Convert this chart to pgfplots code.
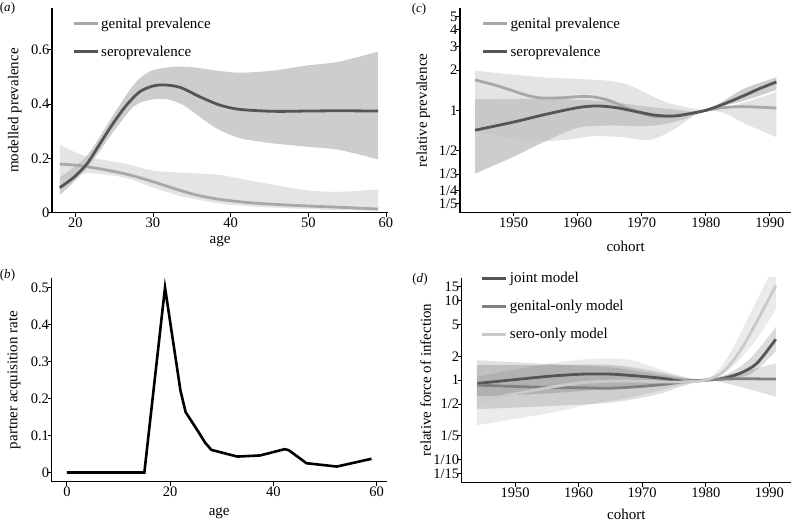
\documentclass[border=0pt]{standalone}
\usepackage{fontspec}
\setmainfont{Liberation Serif}
\usepackage{pgfplots}
\pgfplotsset{compat=1.18}
\usepgfplotslibrary{fillbetween}
\definecolor{rlight}{HTML}{E4E4E4}
\definecolor{rdark}{HTML}{C4C4C4}
\definecolor{lgen}{HTML}{A8A8A8}
\definecolor{lsero}{HTML}{555555}
\definecolor{lmid}{HTML}{808080}
\definecolor{lpale}{HTML}{CACACA}
\newcommand{\lblfont}{\rmfamily\fontsize{15}{17}\selectfont}
\newcommand{\tckfont}{\rmfamily\fontsize{14.5}{16}\selectfont}
\newcommand{\legtxt}[1]{\rmfamily\fontsize{15}{17}\selectfont #1}
\pgfplotsset{
  panel/.style={
    scale only axis, axis lines=left,
    axis line style={-, line width=1.1pt, black},
    tick align=outside, major tick length=4pt,
    tick style={line width=0.9pt, black},
    /pgf/number format/assume math mode=true,
    /pgf/number format/1000 sep={},
    tick label style={font=\tckfont, inner sep=1pt},
    yticklabel style={xshift=2.5pt},
    every axis x label/.style={at={(axis description cs:0.5,0)}, anchor=center, font=\lblfont},
    every axis y label/.style={anchor=center, rotate=90, font=\lblfont},
    legend style={draw=none, fill=none, anchor=north west,
      font=\lblfont, row sep=14pt, inner sep=0pt,
      nodes={inner sep=0pt, text height=11pt, text depth=3pt, font=\lblfont},
      /tikz/every odd column/.append style={column sep=2pt}},
    legend cell align=left,
    legend image code/.code={\draw[##1, line width=3pt] (0pt,0.4pt) -- (24pt,0.4pt);},
  },
}
\begin{document}
\begin{tikzpicture}

% ---------------- (a)
\begin{axis}[panel, at={(52pt,-212.7pt)}, anchor=south west,
  width=336.3pt, height=204.4pt,
  xmin=17, xmax=60.3, ymin=0, ymax=0.752,
  xtick={20,30,40,50,60}, ytick={0,0.2,0.4,0.6},
  xlabel={age}, ylabel={modelled prevalence},
  xlabel style={yshift=-29pt},
  ylabel style={at={(axis description cs:-0.111,0.5)}},
  legend style={at={(0.0595,0.957)}}]
\addplot[name path=gu, draw=none, forget plot, smooth] coordinates {
(18,0.249) (21.5,0.206) (26.2,0.182) (30,0.155) (33.9,0.147) (38.6,0.139) (43.3,0.114) (49.7,0.083) (54,0.077) (59,0.086)};
\addplot[name path=gl, draw=none, forget plot, smooth] coordinates {
(18,0.12) (21.5,0.145) (26.2,0.13) (30,0.093) (33.9,0.059) (38.6,0.034) (43.3,0.022) (49.7,0.0135) (54,0.01) (59,0.007)};
\addplot[fill=rlight, draw=none, forget plot] fill between[of=gu and gl];
\addplot[name path=su, draw=none, forget plot, smooth] coordinates {
(18,0.13) (21.5,0.21) (24.9,0.36) (27.5,0.47) (29.6,0.52) (32.6,0.537) (35.2,0.535) (38.2,0.523) (41.2,0.515) (45.5,0.523) (49.7,0.541) (54,0.556) (59,0.593)};
\addplot[name path=sl, draw=none, forget plot, smooth] coordinates {
(18,0.065) (21.5,0.163) (24.9,0.298) (27.5,0.39) (29.6,0.415) (31.7,0.418) (33.9,0.396) (36,0.353) (38.2,0.31) (41.2,0.274) (45.5,0.255) (49.7,0.243) (54,0.231) (59,0.196)};
\addplot[fill=rdark, fill opacity=0.85, draw=none, forget plot] fill between[of=su and sl];
\addplot[lgen, line width=2.8pt, smooth] coordinates {
(18,0.179) (20.6,0.173) (24,0.157) (27,0.139) (30,0.114) (32.6,0.09) (35.6,0.065) (38.6,0.049) (42,0.038) (45.5,0.031) (49.7,0.025) (54,0.02) (59,0.0135)};
\addlegendentry{\legtxt{genital prevalence}}
\addplot[lsero, line width=2.8pt, smooth] coordinates {
(18,0.092) (19.8,0.13) (21.5,0.18) (23.2,0.255) (24.9,0.33) (26.6,0.396) (28.3,0.445) (30,0.466) (31.5,0.47) (33.5,0.461) (36,0.427) (38.6,0.396) (41.2,0.38) (45.5,0.373) (49.7,0.374) (54,0.375) (59,0.374)};
\addlegendentry{\legtxt{seroprevalence}}
\end{axis}

% ---------------- (b)
\begin{axis}[panel, at={(51.7pt,-481.7pt)}, anchor=south west,
  width=335pt, height=203.4pt,
  xmin=-2.95, xmax=61.95, ymin=-0.025, ymax=0.525,
  xtick={0,20,40,60}, ytick={0,0.1,0.2,0.3,0.4,0.5},
  xlabel={age}, ylabel={partner acquisition rate},
  xlabel style={yshift=-32pt},
  ylabel style={at={(axis description cs:-0.1125,0.5)}}]
\addplot[black, line width=2.6pt] coordinates {
(0,0) (15,0) (19,0.5) (22,0.221) (23,0.163) (25,0.12) (26.8,0.08) (28,0.061) (33,0.043) (37.4,0.046) (42.2,0.063) (43,0.06) (46.4,0.025) (52.3,0.016) (59,0.037)};
\end{axis}

% ---------------- (c)
\begin{axis}[panel, at={(460pt,-212.5pt)}, anchor=south west,
  width=331.4pt, height=204.2pt,
  xmin=1941.65, xmax=1993.35, ymode=log, ymin=0.172, ymax=5.8,
  xtick={1950,1960,1970,1980,1990},
  ytick={0.2,0.25,0.333333,0.5,1,2,3,4,5},
  yticklabels={1/5,1/4,1/3,1/2,1,2,3,4,5}, yminorticks=false,
  xlabel={cohort}, ylabel={relative prevalence},
  xlabel style={yshift=-33.5pt},
  ylabel style={at={(axis description cs:-0.1107,0.5)}},
  legend style={at={(0.0643,0.957)}}]
\addplot[name path=gu, draw=none, forget plot, smooth] coordinates {
(1944,1.98) (1950,1.85) (1955,1.76) (1960,1.72) (1965,1.66) (1967.6,1.57) (1970,1.40) (1973.3,1.175) (1976.5,1.066) (1980,1) (1982.7,1.047) (1985.8,1.14) (1991,1.37)};
\addplot[name path=gl, draw=none, forget plot, smooth] coordinates {
(1944,0.70) (1949,0.62) (1954,0.588) (1958,0.6) (1962.4,0.64) (1967,0.63) (1971.3,0.6) (1975,0.72) (1978,0.9) (1980,1) (1983,0.95) (1986,0.8) (1991,0.63)};
\addplot[fill=rlight, draw=none, forget plot] fill between[of=gu and gl];
\addplot[name path=su, draw=none, forget plot, smooth] coordinates {
(1944,1.21) (1950,1.22) (1955,1.22) (1960,1.2) (1965,1.16) (1970,1.078) (1975,1.017) (1980,1) (1985.8,1.44) (1991,1.76)};
\addplot[name path=sl, draw=none, forget plot, smooth] coordinates {
(1944,0.336) (1950,0.45) (1955,0.588) (1960,0.74) (1965,0.77) (1970,0.762) (1973.3,0.785) (1976.5,0.855) (1980,1) (1985.8,1.175) (1991,1.42)};
\addplot[fill=rdark, fill opacity=0.85, draw=none, forget plot] fill between[of=su and sl];
\addplot[lgen, line width=2.8pt, smooth] coordinates {
(1944,1.69) (1947.8,1.51) (1951.5,1.32) (1954.1,1.24) (1957.2,1.24) (1960.8,1.27) (1962.9,1.25) (1965,1.18) (1967.6,1.047) (1970.2,0.944) (1972.3,0.896) (1974.9,0.906) (1977.5,0.944) (1980,1) (1982.7,1.047) (1985.8,1.066) (1991,1.04)};
\addlegendentry{\legtxt{genital prevalence}}
\addplot[lsero, line width=2.8pt, smooth] coordinates {
(1944,0.71) (1950,0.817) (1955,0.933) (1960,1.047) (1963,1.078) (1966,1.047) (1970,0.96) (1972.3,0.917) (1975,0.906) (1977.5,0.944) (1980,1) (1982.7,1.11) (1985.8,1.28) (1988.4,1.455) (1991,1.63)};
\addlegendentry{\legtxt{seroprevalence}}
\end{axis}

% ---------------- (d)
\begin{axis}[panel, at={(461.9pt,-482.5pt)}, anchor=south west,
  width=328.8pt, height=204.8pt,
  xmin=1941.65, xmax=1993.35, ymode=log, ymin=0.0513, ymax=19.5,
  xtick={1950,1960,1970,1980,1990},
  ytick={0.0666667,0.1,0.2,0.5,1,2,5,10,15},
  yticklabels={1/15,1/10,1/5,1/2,1,2,5,10,15}, yminorticks=false,
  xlabel={cohort}, ylabel={relative force of infection},
  xlabel style={yshift=-31.5pt},
  ylabel style={at={(axis description cs:-0.110,0.5)}},
  legend style={at={(0.0572,1.031)}}]
\addplot[name path=su, draw=none, forget plot, smooth] coordinates {
(1944,1.1) (1955,1.6) (1962,1.85) (1968,1.8) (1973,1.35) (1977,1.08) (1980,1) (1982.5,1.5) (1985,3.3) (1988,10) (1991,30)};
\addplot[name path=sl, draw=none, forget plot, smooth] coordinates {
(1944,0.27) (1955,0.38) (1962,0.5) (1968,0.6) (1973,0.75) (1977,0.9) (1980,1) (1982.5,1.15) (1985,1.7) (1988,3.3) (1991,7.8)};
\addplot[fill=black, fill opacity=0.08, draw=none, forget plot] fill between[of=su and sl];
\addplot[name path=gu, draw=none, forget plot, smooth] coordinates {
(1944,1.78) (1955,1.6) (1965,1.45) (1972,1.2) (1976,1.08) (1980,1) (1983,1.15) (1986,1.3) (1991,1.62)};
\addplot[name path=gl, draw=none, forget plot, smooth] coordinates {
(1944,0.43) (1955,0.47) (1965,0.52) (1972,0.65) (1976,0.82) (1980,1) (1983,0.92) (1986,0.8) (1991,0.62)};
\addplot[fill=black, fill opacity=0.12, draw=none, forget plot] fill between[of=gu and gl];
\addplot[name path=ju, draw=none, forget plot, smooth] coordinates {
(1944,1.54) (1955,1.55) (1965,1.55) (1972,1.3) (1976,1.1) (1980,1) (1983,1.15) (1986,1.6) (1988,2.3) (1991,4.6)};
\addplot[name path=jl, draw=none, forget plot, smooth] coordinates {
(1944,0.62) (1955,0.68) (1965,0.78) (1972,0.85) (1976,0.92) (1980,1) (1983,1.02) (1986,1.1) (1988,1.35) (1991,2.3)};
\addplot[fill=black, fill opacity=0.14, draw=none, forget plot] fill between[of=ju and jl];
\addplot[lsero, line width=2.8pt, smooth] coordinates {
(1944.1,0.908) (1950.3,1.02) (1955.5,1.12) (1960.7,1.19) (1964.9,1.19) (1969.1,1.13) (1973.3,1.05) (1976.4,0.97) (1980,1) (1982.7,1.05) (1985.3,1.21) (1988,1.62) (1991,3.27)};
\addlegendentry{\legtxt{joint model}}
\addplot[lmid, line width=2.8pt, smooth] coordinates {
(1944.1,0.865) (1950.3,0.83) (1955.5,0.81) (1960.7,0.80) (1964.9,0.79) (1969.1,0.825) (1973.3,0.88) (1976.4,0.95) (1980,1) (1982.7,1.03) (1985.9,1.04) (1991,1.03)};
\addlegendentry{\legtxt{genital-only model}}
\addplot[lpale, line width=2.8pt, smooth] coordinates {
(1944.1,0.545) (1950.3,0.68) (1955.5,0.81) (1960.7,0.93) (1964.9,0.97) (1969.1,0.97) (1973.3,0.95) (1976.4,0.95) (1980,1) (1982.7,1.27) (1985.3,2.27) (1988,5.4) (1991,15.5)};
\addlegendentry{\legtxt{sero-only model}}
\end{axis}

\node[font=\rmfamily\fontsize{13}{15}\selectfont] at (7.5pt,-8pt) {(\textit{a})};
\node[font=\rmfamily\fontsize{13}{15}\selectfont] at (7.5pt,-275pt) {(\textit{b})};
\node[font=\rmfamily\fontsize{13}{15}\selectfont] at (419pt,-9pt) {(\textit{c})};
\node[font=\rmfamily\fontsize{13}{15}\selectfont] at (420pt,-279pt) {(\textit{d})};
\pgfresetboundingbox
\path (0pt,0pt) rectangle (791pt,-522pt);
\end{tikzpicture}
\end{document}
